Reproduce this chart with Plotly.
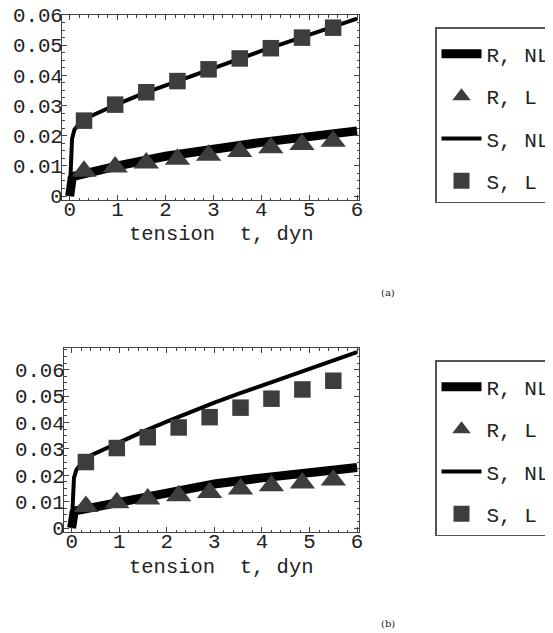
import plotly.graph_objects as go

# ---------------- data ----------------
t_L = [0.3, 0.95, 1.6, 2.25, 2.9, 3.55, 4.2, 4.85, 5.5]
R_L = [0.0082, 0.0096, 0.0110, 0.0122, 0.0135, 0.0148, 0.0160, 0.0171, 0.0182]
S_L = [0.0250, 0.0303, 0.0344, 0.0381, 0.0420, 0.0456, 0.0490, 0.0525, 0.0558]

t_RNL = [0, 0.02, 0.05, 0.1, 0.3, 1, 2, 3, 4, 5, 6]
R_NL_a = [0, 0.0035, 0.0058, 0.0066, 0.0072, 0.0100, 0.0132, 0.0157, 0.0178, 0.0197, 0.0216]
R_NL_b = [0, 0.0035, 0.0058, 0.0066, 0.0073, 0.0103, 0.0138, 0.0167, 0.0190, 0.0210, 0.0229]

t_SNL = [0, 0.02, 0.05, 0.1, 0.2, 0.4, 0.7, 1, 1.5, 2, 2.5, 3, 3.5, 4, 4.5, 5, 5.5, 6]
S_NL_a = [0, 0.012, 0.019, 0.022, 0.024, 0.0262, 0.0284, 0.0305, 0.0338, 0.0367,
          0.0397, 0.0424, 0.0453, 0.0481, 0.0508, 0.0534, 0.0560, 0.0588]
S_NL_b = [0, 0.012, 0.019, 0.022, 0.0245, 0.0275, 0.0300, 0.0325, 0.0365, 0.0403,
          0.0440, 0.0475, 0.0508, 0.0540, 0.0571, 0.0604, 0.0635, 0.0666]

x_ticks = [0, 1, 2, 3, 4, 5, 6]
y_ticks = [0, 0.01, 0.02, 0.03, 0.04, 0.05, 0.06]
y_ticktext = ["0", "0.01", "0.02", "0.03", "0.04", "0.05", "0.06"]
names = ["R, NL", "R, L", "S, NL", "S, L"]
x_title = "tension\u00a0 t, dyn"
panel_labels = ["(a)", "(b)"]

# page body has an 8px margin, so the figure is the window minus that
W, H = 545, 625
MARK = "#3d3d3d"
FRAME = "#444444"
MONO = "Liberation Mono"

fig = go.Figure()

panels = [
    dict(xa="x", ya="y", leg="legend", rnl=R_NL_a, snl=S_NL_a),
    dict(xa="x2", ya="y2", leg="legend2", rnl=R_NL_b, snl=S_NL_b),
]
for i, p in enumerate(panels):
    fig.add_trace(go.Scatter(x=t_RNL, y=p["rnl"], mode="lines", name=names[0],
                             line=dict(color="black", width=9),
                             xaxis=p["xa"], yaxis=p["ya"], legend=p["leg"],
                             legendgroup=f"{i}a"))
    fig.add_trace(go.Scatter(x=t_L, y=R_L, mode="markers", name=names[1],
                             marker=dict(symbol="triangle-up", size=22, color=MARK,
                                         line=dict(width=0)),
                             xaxis=p["xa"], yaxis=p["ya"], legend=p["leg"],
                             legendgroup=f"{i}b"))
    fig.add_trace(go.Scatter(x=t_SNL, y=p["snl"], mode="lines", name=names[2],
                             line=dict(color="black", width=4),
                             xaxis=p["xa"], yaxis=p["ya"], legend=p["leg"],
                             legendgroup=f"{i}c"))
    fig.add_trace(go.Scatter(x=t_L, y=S_L, mode="markers", name=names[3],
                             marker=dict(symbol="square", size=16.5, color=MARK,
                                         line=dict(width=0)),
                             xaxis=p["xa"], yaxis=p["ya"], legend=p["leg"],
                             legendgroup=f"{i}d"))


def xax(domain, anchor):
    return dict(domain=domain, anchor=anchor, range=[-0.16, 6.04],
                tickvals=x_ticks, ticks="inside", ticklen=5, tickwidth=1,
                tickcolor=FRAME, showline=True, linecolor=FRAME, linewidth=1,
                mirror="ticks", showgrid=False, zeroline=False,
                ticklabelstandoff=-10, ticklabeloverflow="allow",
                tickfont=dict(family=MONO, size=20.8, color="#222"),
                minor=dict(ticks="inside", ticklen=2.5, dtick=0.2,
                           tickcolor=FRAME, showgrid=False))


def yax(domain, anchor, rng):
    return dict(domain=domain, anchor=anchor, range=rng,
                tickvals=y_ticks, ticktext=y_ticktext, ticks="inside",
                ticklen=5, tickwidth=1, tickcolor=FRAME, showline=True,
                linecolor=FRAME, linewidth=1, mirror="ticks", showgrid=False,
                zeroline=False, ticklabelstandoff=-6, ticklabeloverflow="allow",
                tickfont=dict(family=MONO, size=20.8, color="#222"),
                minor=dict(ticks="inside", ticklen=2.5, dtick=0.0025,
                           tickcolor=FRAME, showgrid=False))


def legend(top_px):
    return dict(x=427 / W, y=1 - top_px / H, xanchor="left", yanchor="top",
                bordercolor="#555555", borderwidth=1.5, bgcolor="white",
                font=dict(family=MONO, size=21, color="#222"),
                title=dict(text="\u00a0", font=dict(size=4)),
                itemwidth=40, tracegroupgap=12, itemsizing="trace")


fig.update_layout(
    width=W, height=H,
    margin=dict(l=0, r=0, t=0, b=0, autoexpand=False),
    paper_bgcolor="white", plot_bgcolor="white",
    showlegend=True,
    xaxis=xax([54 / W, 351 / W], "y"),
    yaxis=yax([1 - 192 / H, 1 - 7 / H], "x", [-0.0013, 0.06]),
    xaxis2=xax([56 / W, 351 / W], "y2"),
    yaxis2=yax([1 - 524 / H, 1 - 340 / H], "x2", [-0.0015, 0.0682]),
    legend=legend(19),
    legend2=legend(352),
    annotations=[
        dict(text=x_title, xref="paper", yref="paper", x=213 / W, y=1 - 227 / H,
             xanchor="center", yanchor="middle", showarrow=False,
             font=dict(family=MONO, size=20.5, color="#222")),
        dict(text=x_title, xref="paper", yref="paper", x=213 / W, y=1 - 559 / H,
             xanchor="center", yanchor="middle", showarrow=False,
             font=dict(family=MONO, size=20.5, color="#222")),
        dict(text=panel_labels[0], xref="paper", yref="paper", x=380 / W, y=1 - 284 / H,
             xanchor="center", yanchor="middle", showarrow=False,
             font=dict(family="DejaVu Serif", size=10, color="#222")),
        dict(text=panel_labels[1], xref="paper", yref="paper", x=380 / W, y=1 - 615 / H,
             xanchor="center", yanchor="middle", showarrow=False,
             font=dict(family="DejaVu Serif", size=10, color="#222")),
    ],
)

fig.write_html("out.html")
